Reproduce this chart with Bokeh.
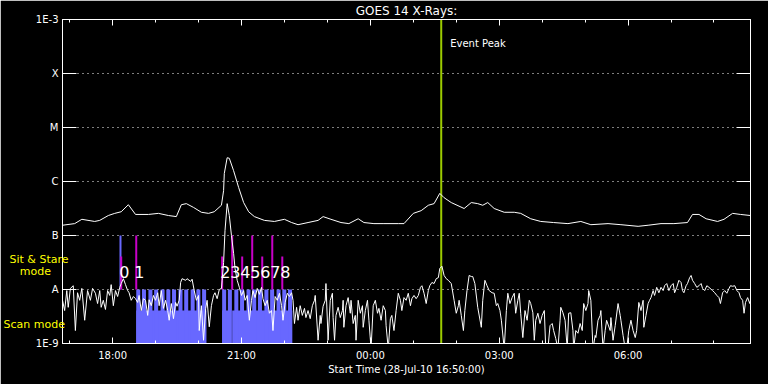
import numpy as np
import pandas as pd
from bokeh.plotting import figure
from bokeh.models import (FixedTicker, CustomJSTickFormatter, DatetimeTickFormatter,
                          LogAxis, DatetimeAxis, Label, Span)
from bokeh.core.properties import value
from bokeh.embed import file_html
from bokeh.resources import INLINE

# ---------------- data ----------------
START = "2010-07-28 16:50:00"
END_MIN = 961                      # minutes after start shown
EVENT_PEAK_MIN = 529               # event peak, minutes after start

# GOES 14 long channel (1-8 A): (minutes after start, log10 flux W/m^2)
LONG = [(0,-6.81),(17,-6.78),(27,-6.70),(45,-6.74),(52,-6.72),(64,-6.63),(73,-6.59),(82,-6.56),
        (92,-6.43),(102,-6.61),(120,-6.61),(134,-6.59),(148,-6.63),(159,-6.65),(166,-6.43),
        (173,-6.41),(183,-6.48),(194,-6.57),(204,-6.59),(212,-6.56),(222,-6.44),(225,-6.17),
        (226,-5.85),(230,-5.56),(233,-5.57),(239,-5.80),(246,-6.11),(253,-6.39),(260,-6.56),
        (268,-6.65),(282,-6.72),(296,-6.74),(310,-6.70),(320,-6.76),(329,-6.80),(343,-6.76),
        (357,-6.72),(364,-6.65),(375,-6.70),(389,-6.76),(400,-6.78),(413,-6.69),(421,-6.76),
        (435,-6.78),(449,-6.78),(469,-6.78),(477,-6.78),(490,-6.59),(501,-6.54),(511,-6.44),
        (519,-6.41),(527,-6.22),(533,-6.30),(543,-6.39),(561,-6.50),(571,-6.39),(580,-6.41),
        (587,-6.44),(594,-6.39),(603,-6.50),(617,-6.57),(631,-6.57),(640,-6.59),(654,-6.69),
        (668,-6.74),(686,-6.76),(706,-6.78),(724,-6.74),(738,-6.80),(762,-6.78),(780,-6.80),
        (804,-6.83),(818,-6.81),(836,-6.78),(854,-6.78),(873,-6.76),(880,-6.61),(889,-6.61),
        (899,-6.69),(915,-6.74),(924,-6.70),(936,-6.59),(947,-6.61),(961,-6.63)]

# GOES 14 short channel (0.5-4 A): (minutes after start, log10 flux W/m^2)
SHORT = [
(0,-8.20),(3,-8.39),(6,-8.02),(8,-8.33),(11,-7.98),(15,-7.93),(18,-8.76),(21,-8.06),(24,-8.20),(27,-7.98),
(31,-8.57),(35,-8.02),(39,-8.20),(42,-7.98),(46,-8.07),(49,-8.26),(52,-8.02),(54,-8.33),(57,-8.20),(60,-8.37),
(63,-8.02),(66,-8.11),(68,-7.91),(71,-8.30),(74,-8.02),(77,-8.13),(80,-7.96),(82,-7.89),(85,-7.80),(88,-7.91),
(91,-8.02),(93,-8.06),(96,-8.20),(99,-8.13),(102,-8.17),(105,-8.24),(107,-8.11),(110,-8.39),(113,-8.17),(116,-8.20),
(119,-8.48),(121,-8.19),(124,-8.30),(127,-8.11),(130,-8.20),(133,-8.06),(135,-8.30),(138,-8.02),(141,-8.35),(144,-8.20),
(147,-8.39),(149,-8.57),(152,-8.26),(155,-8.54),(158,-8.24),(160,-8.31),(163,-8.20),(165,-7.87),(167,-7.80),(172,-7.83),
(174,-7.80),(179,-7.85),(181,-7.81),(184,-8.02),(187,-8.20),(190,-8.11),(191,-8.76),(194,-8.30),(197,-8.94),(200,-8.35),
(202,-8.20),(205,-8.69),(208,-8.30),(211,-8.11),(213,-8.06),(216,-8.17),(219,-8.00),(222,-7.98),(223,-7.83),(225,-7.50),
(227,-6.91),(230,-6.41),(233,-6.63),(236,-7.00),(239,-7.33),(241,-7.61),(244,-7.83),(247,-7.96),(250,-8.11),(253,-8.02),
(255,-8.20),(258,-8.11),(261,-8.57),(264,-8.20),(266,-8.02),(269,-8.15),(272,-7.98),(275,-8.09),(278,-7.96),(280,-8.17),
(283,-8.30),(286,-8.20),(289,-8.44),(292,-8.39),(294,-8.76),(297,-8.13),(300,-8.20),(303,-8.07),(306,-8.30),(308,-8.57),
(311,-8.24),(314,-8.07),(317,-8.13),(320,-8.06),(322,-8.20),(324,-8.63),(327,-8.33),(329,-8.57),(332,-8.30),(335,-8.48),
(338,-8.35),(340,-8.52),(343,-8.39),(346,-8.54),(349,-8.30),(352,-8.20),(353,-8.11),(357,-8.94),(360,-8.48),(361,-8.63),
(364,-8.31),(367,-8.20),(368,-7.89),(371,-8.94),(374,-8.20),(377,-8.07),(378,-8.52),(380,-8.94),(382,-8.48),(385,-8.33),
(388,-8.52),(391,-8.39),(392,-8.20),(393,-8.70),(396,-8.30),(399,-8.15),(402,-8.44),(403,-8.20),(406,-8.63),(409,-8.48),
(410,-8.94),(413,-8.20),(416,-8.44),(419,-8.30),(420,-8.70),(423,-8.39),(426,-8.20),(428,-8.57),(431,-9.10),(434,-8.30),
(437,-8.20),(440,-8.44),(442,-8.35),(445,-8.57),(448,-8.30),(451,-8.39),(452,-8.67),(455,-9.10),(458,-8.54),(460,-8.48),
(463,-8.76),(466,-8.39),(469,-8.07),(472,-8.20),(474,-8.39),(477,-8.15),(480,-8.20),(483,-8.07),(486,-8.30),(488,-8.17),
(491,-8.11),(494,-8.17),(497,-8.11),(500,-7.96),(502,-7.93),(505,-8.07),(508,-8.26),(511,-8.02),(513,-7.93),(516,-7.87),
(519,-7.89),(522,-7.80),(525,-7.78),(527,-7.61),(530,-7.57),(533,-7.74),(536,-7.80),(539,-7.83),(543,-7.89),(547,-8.20),
(550,-8.44),(553,-8.30),(554,-8.20),(557,-8.48),(560,-8.76),(562,-8.39),(565,-8.02),(568,-7.74),(571,-7.76),(573,-7.76),
(576,-7.89),(580,-8.33),(585,-8.70),(587,-8.20),(590,-7.83),(593,-7.93),(596,-8.02),(600,-8.06),(603,-8.07),(606,-8.30),
(608,-8.26),(611,-8.39),(613,-8.57),(617,-9.10),(620,-8.39),(622,-8.07),(625,-8.26),(628,-8.15),(631,-8.07),(633,-8.44),
(636,-8.20),(638,-8.07),(640,-8.44),(643,-8.89),(646,-8.39),(649,-8.57),(652,-8.20),(654,-8.26),(657,-8.43),(659,-8.94),
(661,-8.57),(664,-8.44),(667,-8.63),(670,-8.48),(673,-8.39),(675,-9.10),(678,-9.10),(681,-8.67),(684,-8.63),(686,-8.76),
(689,-8.91),(692,-9.10),(695,-8.57),(696,-8.33),(699,-8.43),(702,-8.57),(705,-9.10),(707,-8.44),(710,-8.43),(713,-8.76),
(714,-9.10),(717,-8.76),(720,-8.81),(723,-8.63),(726,-8.76),(728,-8.26),(731,-8.39),(734,-8.26),(735,-8.02),(738,-8.20),
(741,-9.10),(744,-8.85),(745,-8.89),(748,-8.57),(751,-8.48),(752,-8.39),(755,-9.10),(758,-8.76),(760,-8.57),(765,-8.76),
(766,-8.52),(769,-8.94),(772,-8.67),(776,-8.26),(779,-8.48),(780,-8.57),(783,-8.85),(786,-9.10),(788,-9.10),(791,-8.76),
(794,-8.57),(797,-8.76),(800,-8.89),(802,-8.76),(805,-8.24),(808,-8.39),(811,-8.20),(812,-8.70),(815,-8.48),(818,-8.26),
(820,-8.20),(822,-8.15),(825,-8.02),(827,-8.11),(830,-7.96),(833,-8.06),(836,-7.96),(839,-8.02),(841,-7.93),(844,-7.89),
(847,-8.02),(850,-7.93),(853,-7.89),(855,-8.06),(858,-7.96),(861,-7.83),(864,-7.87),(866,-8.02),(868,-8.06),(871,-7.93),
(873,-7.89),(876,-7.78),(878,-7.74),(880,-7.83),(883,-7.89),(886,-7.96),(889,-7.93),(892,-7.89),(894,-7.98),(897,-8.02),
(900,-7.93),(903,-7.96),(908,-8.02),(911,-8.06),(914,-8.11),(917,-8.15),(919,-8.26),(922,-8.06),(925,-8.02),(928,-8.07),
(931,-7.98),(933,-7.93),(936,-7.94),(939,-7.93),(942,-8.02),(945,-8.06),(947,-8.15),(950,-8.20),(952,-8.44),(954,-8.24),
(957,-8.15),(960,-8.26),(961,-8.20)]

# Scan mode observations (start minute after start)
SCAN_START_MIN = [103, 111, 120, 128, 137, 145, 153, 162, 170, 179, 187, 195,
                  223, 231, 240, 248, 257, 265, 273, 282, 290, 299, 307, 315]
SCAN_BLOCK_START_MIN = [103, 223, 237]
SCAN_BLOCK_END_MIN = [201, 235, 321]
SCAN_TOP = 1e-8
SCAN_BLOCK_TOP = 4.1e-9

# Sit & Stare observations
SS_MIN = [82, 103, 223, 237, 251, 265, 279, 293, 307]
SS_TOP = [4.1e-8, 1e-7, 4.1e-8, 1e-7, 4.1e-8, 1e-7, 4.1e-8, 1e-7, 4.1e-8]
SS_LABELS = ["0", "1", "2", "3", "4", "5", "6", "7", "8"]
SS_BLUE_MIN = [81]
SS_BLUE_TOP = [1e-7]
SS_BOTTOM = 1e-8
SS_LABEL_Y = 2.07e-8

Y_TICK_VALUES = [1e-9, 1e-8, 1e-7, 1e-6, 1e-5, 1e-4, 1e-3]
Y_TICK_LABELS = ["1E-9", "A", "B", "C", "M", "X", "1E-3"]
GRID_VALUES = [1e-8, 1e-7, 1e-6, 1e-5, 1e-4]

# mode captions in the left margin (flux level where each caption sits)
MODE_LEVELS = [10 ** -7.44, 10 ** -7.67, 10 ** -8.65]
MODE_TEXTS = ["Sit & Stare", "mode", "Scan mode"]
MODE_PAD = ["", "\u00a0" * 5, "\u00a0"]   # visual padding to mimic left/centre placement

X_MAJOR = ["2010-07-28 18:00", "2010-07-28 21:00", "2010-07-29 00:00",
           "2010-07-29 03:00", "2010-07-29 06:00"]
X_MINOR = ["2010-07-28 17:00", "2010-07-28 18:00", "2010-07-28 19:00", "2010-07-28 20:00",
           "2010-07-28 21:00", "2010-07-28 22:00", "2010-07-28 23:00", "2010-07-29 00:00",
           "2010-07-29 01:00", "2010-07-29 02:00", "2010-07-29 03:00", "2010-07-29 04:00",
           "2010-07-29 05:00", "2010-07-29 06:00", "2010-07-29 07:00", "2010-07-29 08:00"]

TITLE = "GOES 14 X-Rays:"
X_TITLE = "Start Time (28-Jul-10 16:50:00)"

# ---------------- helpers ----------------
t0 = pd.Timestamp(START)
def at(minutes):
    return t0 + pd.to_timedelta(np.asarray(minutes, dtype=float), unit="min")
def ms(ts):
    return pd.Timestamp(ts).value / 1e6

FONT = "DejaVu Sans"
WHITE = "#FFFFFF"
BLUE = "#6868FF"
MAGENTA = "#C800C8"
YELLOW = "#FFFF00"
GREEN = "#9CCB00"

p = figure(width=768, height=384, x_axis_type="datetime", y_axis_type="log",
           x_range=(ms(t0), ms(at([END_MIN])[0])), y_range=(1e-9, 1e-3),
           output_backend="svg", toolbar_location=None, title=None,
           background_fill_color="black", border_fill_color="black",
           outline_line_color=WHITE, outline_line_width=1,
           min_border_left=61, min_border_right=18, min_border_top=19, min_border_bottom=41)

xticker = FixedTicker(ticks=[ms(t) for t in X_MAJOR], minor_ticks=[ms(t) for t in X_MINOR])
yticker = FixedTicker(ticks=Y_TICK_VALUES, minor_ticks=[])
blank = CustomJSTickFormatter(code="return '';")

# bottom axis
xa = p.xaxis[0]
xa.ticker = xticker
xa.formatter = DatetimeTickFormatter(hours="%H:%M", days="%H:%M", minutes="%H:%M", hourmin="%H:%M")
xa.axis_line_color = WHITE
xa.major_tick_line_color = WHITE
xa.minor_tick_line_color = WHITE
xa.major_tick_in = 6
xa.major_tick_out = 0
xa.minor_tick_in = 3
xa.minor_tick_out = 0
xa.major_label_text_color = WHITE
xa.major_label_text_font = FONT
xa.major_label_text_font_size = "10px"
xa.major_label_standoff = 6
xa.axis_label = X_TITLE
xa.axis_label_text_color = WHITE
xa.axis_label_text_font = FONT
xa.axis_label_text_font_size = "10px"
xa.axis_label_text_font_style = "normal"
xa.axis_label_standoff = 0

# left axis (white decade labels, inner)
ya = p.yaxis[0]
ya.ticker = yticker
ya.formatter = CustomJSTickFormatter(
    args=dict(exps=[int(round(np.log10(v))) for v in Y_TICK_VALUES], labels=Y_TICK_LABELS),
    code="const e = Math.round(Math.log10(tick)); const i = exps.indexOf(e); return i >= 0 ? labels[i] : '';")
ya.axis_line_color = WHITE
ya.major_tick_line_color = WHITE
ya.minor_tick_line_color = None
ya.major_tick_in = 14
ya.major_tick_out = 0
ya.major_label_text_color = WHITE
ya.major_label_text_font = FONT
ya.major_label_text_font_size = "10px"
ya.major_label_standoff = 4

# left axis (yellow mode captions, outer)
mode_axis = LogAxis(
    ticker=FixedTicker(ticks=MODE_LEVELS, minor_ticks=[]),
    formatter=CustomJSTickFormatter(args=dict(labels=[t + pd_ for t, pd_ in zip(MODE_TEXTS, MODE_PAD)]),
                                    code="return labels[index] ?? '';"),
    axis_line_color=None, major_tick_line_color=None, minor_tick_line_color=None,
    major_tick_in=0, major_tick_out=0, minor_tick_in=0, minor_tick_out=0,
    major_label_text_color=YELLOW, major_label_text_font=FONT,
    major_label_text_font_size="11px", major_label_standoff=-36)
p.add_layout(mode_axis, "left")

# top axis (ticks + title)
top = DatetimeAxis(ticker=xticker, formatter=blank, axis_line_color=WHITE,
                   major_tick_line_color=WHITE, minor_tick_line_color=WHITE,
                   major_tick_in=6, major_tick_out=0, minor_tick_in=3, minor_tick_out=0,
                   major_label_text_font_size="1px", major_label_standoff=0,
                   axis_label=TITLE, axis_label_text_color=WHITE, axis_label_text_font=FONT,
                   axis_label_text_font_size="12px", axis_label_text_font_style="normal",
                   axis_label_standoff=2)
p.add_layout(top, "above")
# right axis (ticks only)
right = LogAxis(ticker=yticker, formatter=blank, axis_line_color=WHITE,
                major_tick_line_color=WHITE, minor_tick_line_color=None,
                major_tick_in=14, major_tick_out=0,
                major_label_text_font_size="1px", major_label_standoff=0)
p.add_layout(right, "right")

p.xgrid.grid_line_color = None
p.ygrid.ticker = FixedTicker(ticks=GRID_VALUES, minor_ticks=[])
p.ygrid.grid_line_color = WHITE
p.ygrid.grid_line_dash = "1 4"
p.ygrid.grid_line_width = 1

# event peak line
p.add_layout(Span(location=ms(at([EVENT_PEAK_MIN])[0]), dimension="height",
                  line_color=GREEN, line_width=2, level="underlay"))

# scan mode blocks and bars
SCAN_BAR_WIDTH_MIN = 5.6
p.quad(left=at(SCAN_BLOCK_START_MIN), right=at(SCAN_BLOCK_END_MIN),
       bottom=1e-9, top=SCAN_BLOCK_TOP, fill_color=BLUE, line_color=None)
p.quad(left=at(SCAN_START_MIN), right=at(np.array(SCAN_START_MIN) + SCAN_BAR_WIDTH_MIN),
       bottom=1e-9, top=SCAN_TOP, fill_color=BLUE, line_color=None)

# sit & stare bars
p.segment(x0=at(SS_BLUE_MIN), x1=at(SS_BLUE_MIN), y0=SS_BOTTOM, y1=SS_BLUE_TOP,
          line_color=BLUE, line_width=2)
p.segment(x0=at(SS_MIN), x1=at(SS_MIN), y0=SS_BOTTOM, y1=SS_TOP,
          line_color=MAGENTA, line_width=2)

# curves
lm, lv = zip(*LONG)
sm, sv = zip(*SHORT)
p.line(at(lm), 10 ** np.array(lv), line_color=WHITE, line_width=1)
p.line(at(sm), 10 ** np.array(sv), line_color=WHITE, line_width=1)

# sit & stare numbers
p.text(x=at(SS_MIN), y=[SS_LABEL_Y] * len(SS_MIN), text=SS_LABELS,
       text_font=value(FONT), text_font_size="16px", text_color=WHITE,
       text_baseline="middle", text_align="left", x_offset=-2)

# event peak caption
p.add_layout(Label(x=ms(at([EVENT_PEAK_MIN])[0]), y=3.6e-4, x_offset=9, text="Event Peak",
                   text_font=FONT, text_font_size="10px", text_color=WHITE,
                   text_baseline="middle", text_align="left"))

open("out.html", "w").write(file_html(p, INLINE))
